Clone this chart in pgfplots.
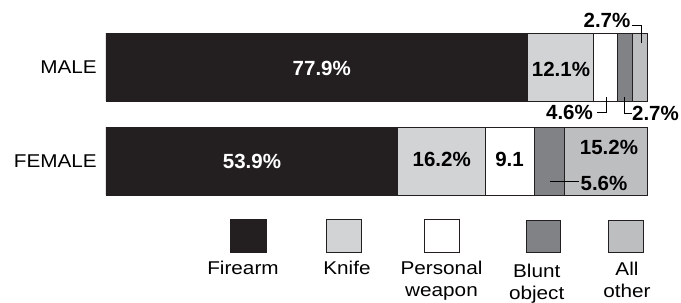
\documentclass[border=0pt]{standalone}
\usepackage{fontspec}
\setmainfont{Liberation Sans}
\newfontfamily\labfont{Liberation Sans}[FakeStretch=1.12]
\usepackage{pgfplots}
\pgfplotsset{compat=1.18}
\definecolor{cFire}{HTML}{231F20}
\definecolor{cKnife}{HTML}{D1D3D4}
\definecolor{cBlunt}{HTML}{808285}
\definecolor{cOther}{HTML}{BCBEC0}
\definecolor{cEdge}{HTML}{231F20}
\tikzset{
  vlab/.style={font=\bfseries\fontsize{20.5bp}{24bp}\selectfont, inner sep=0pt},
  rlab/.style={font=\labfont\fontsize{18.5bp}{22bp}\selectfont, inner sep=0pt},
}
\begin{document}
\begin{tikzpicture}
\begin{axis}[name=ax, scale only axis, width=541bp, height=299bp,
  xmin=0, xmax=100, ymin=-1.468085, ymax=1.712766,
  xbar stacked, bar width=68bp,
  axis line style={draw=none}, xtick=\empty, ytick={0,1}, yticklabels={FEMALE,MALE},
  major tick length=0pt,
  yticklabel style={rlab, xshift=-9bp},
  clip=false,
  every axis plot/.append style={draw=cEdge, line width=0.8bp},
]
\addplot[fill=cFire] coordinates {(77.9,1) (53.9,0)};
\addplot[fill=cKnife] coordinates {(12.1,1) (16.2,0)};
\addplot[fill=white] coordinates {(4.6,1) (9.1,0)};
\addplot[fill=cBlunt] coordinates {(2.7,1) (5.6,0)};
\addplot[fill=cOther] coordinates {(2.7,1) (15.2,0)};
\end{axis}
\begin{scope}[shift={(ax.north west)}, xshift=-106bp, x=1bp, y=-1bp]
\path (0,0) rectangle (681,299);
% value labels
\node[vlab, text=white] at (321.8,68) {77.9\%};
\node[vlab] at (561,69.5) {12.1\%};
\node[vlab, text=white] at (252,161) {53.9\%};
\node[vlab] at (441.7,159.5) {16.2\%};
\node[vlab] at (509.5,159.5) {9.1};
\node[vlab] at (609,147) {15.2\%};
% leaders
\draw[line width=0.9bp] (632,25) -- (641,25) -- (641,43);
\node[vlab] at (607,20) {2.7\%};
\draw[line width=0.9bp] (597,112.5) -- (606,112.5) -- (606,97);
\node[vlab] at (569.5,112) {4.6\%};
\draw[line width=0.9bp] (624.3,97) -- (624.3,113) -- (631.7,113);
\node[vlab] at (655.5,113) {2.7\%};
\draw[line width=0.9bp] (550,181) -- (579,181);
\node[vlab] at (604,183) {5.6\%};
% legend
\filldraw[fill=cFire, draw=cEdge, line width=0.8bp] (230,219.5) rectangle (266,252);
\filldraw[fill=cKnife, draw=cEdge, line width=0.8bp] (326,219.5) rectangle (361,252);
\filldraw[fill=white, draw=cEdge, line width=0.8bp] (424,219.5) rectangle (459,252);
\filldraw[fill=cBlunt, draw=cEdge, line width=0.8bp] (526,220.5) rectangle (560,252.5);
\filldraw[fill=cOther, draw=cEdge, line width=0.8bp] (608,220) rectangle (643,252);
\node[rlab, anchor=base] at (243,274) {Firearm};
\node[rlab, anchor=base] at (347,274) {Knife};
\node[rlab, anchor=base] at (441.5,274) {Personal};
\node[rlab, anchor=base] at (441.5,296) {weapon};
\node[rlab, anchor=base] at (536.7,277) {Blunt};
\node[rlab, anchor=base] at (536.7,299) {object};
\node[rlab, anchor=base] at (627,275.5) {All};
\node[rlab, anchor=base] at (627,297.5) {other};
\end{scope}
\end{tikzpicture}
\end{document}
